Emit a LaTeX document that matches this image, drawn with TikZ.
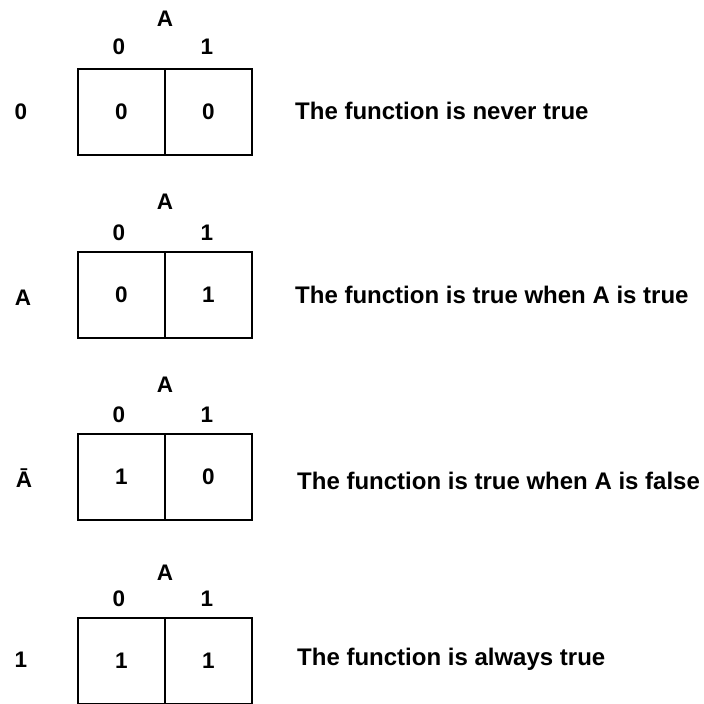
\documentclass[tikz,border=0pt]{standalone}
\usepackage{fontspec}
\setmainfont{Liberation Sans}
\begin{document}
\begin{tikzpicture}[x=1pt,y=-1pt,
  every node/.style={font=\bfseries\fontsize{22.5}{26}\selectfont,inner sep=0pt},
  cell/.style={draw,line width=1.7pt,minimum width=87pt,minimum height=86pt,anchor=north west},
  lab/.style={},
  desc/.style={anchor=west,font=\bfseries\fontsize{24}{28}\selectfont}]
\useasboundingbox (0,0) rectangle (704,704);
% map 1
\node[lab] (a1) at (165,19) {A};
\node[lab] (c01) at (119,47) {0};
\node[lab] (c11) at (207,47) {1};
\node[lab] (r1) at (21,112) {0};
\node[cell] (m1l) at (77,68) {0};
\node[cell] (m1r) at (164,68) {0};
\node[desc] (t1) at (295,111) {The function is never true};
% map 2
\node[lab] (a2) at (165,202) {A};
\node[lab] (c02) at (119,233) {0};
\node[lab] (c12) at (207,233) {1};
\node[lab] (r2) at (23,298) {A};
\node[cell] (m2l) at (77,251) {0};
\node[cell] (m2r) at (164,251) {1};
\node[desc] (t2) at (295,295) {The function is true when A is true};
% map 3
\node[lab] (a3) at (165,385) {A};
\node[lab] (c03) at (119,415) {0};
\node[lab] (c13) at (207,415) {1};
\node[lab] (r3) at (24,478) {Ā};
\node[cell] (m3l) at (77,433) {1};
\node[cell] (m3r) at (164,433) {0};
\node[desc] (t3) at (297,481) {The function is true when A is false};
% map 4
\node[lab] (a4) at (165,573) {A};
\node[lab] (c04) at (119,599) {0};
\node[lab] (c14) at (207,599) {1};
\node[lab] (r4) at (21,660) {1};
\node[cell] (m4l) at (77,617) {1};
\node[cell] (m4r) at (164,617) {1};
\node[desc] (t4) at (297,659) {The function is always true};
\end{tikzpicture}
\end{document}
